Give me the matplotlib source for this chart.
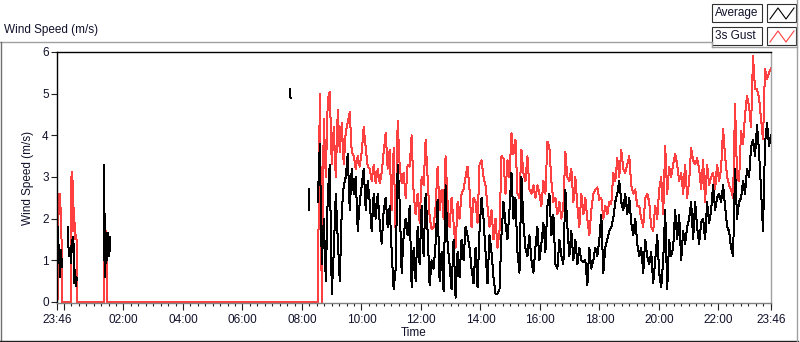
import numpy as np
import matplotlib
matplotlib.use('Agg')
import matplotlib.pyplot as plt
from matplotlib.lines import Line2D
from matplotlib.patches import Rectangle

plt.rcParams['font.family'] = ['Liberation Sans', 'DejaVu Sans']

# time axis: minutes after 23:46
# early gust bursts (gust drops back to 0 between them)
gust_early_t = [0, 1.0, 1.3, 2.7, 3.5, 4.5, 5.5, 6.5, 7.5, 8.5, 9.4, 9.6,
                27.8, 28.2, 29.0, 30.0, 31.0, 32.5, 34.0, 35.5, 37.0, 38.5, 40.0, 40.3,
                94.5, 95.0, 95.5, 96.5, 97.5, 98.5, 99.5, 100.5, 101.5, 525]
gust_early = [0, 0, 0.9, 2.6, 2.1, 2.55, 2.2, 2.6, 2.0, 1.9, 1.3, 0,
              0, 3.0, 1.2, 3.13, 2.0, 2.9, 1.7, 1.9, 1.5, 1.6, 1.4, 0,
              0, 0.5, 2.35, 1.6, 1.9, 1.3, 1.7, 1.5, 0, 0]

# average: isolated pieces with no data in between
avg_pieces_t = [
    [1.3, 2.7, 3.4, 4.7, 6.1, 7.4, 8.7, 10.1],
    [21.5, 22.8, 24.2, 26.2, 28.2, 29.6, 31, 33, 35, 36.3, 37.7, 39, 40.3],
    [94.2, 95.5, 96.2, 97.5, 98.9, 100.2, 101.5, 102.9, 104.2, 105.6, 106.9],
    [470, 471],
    [508, 509],
]
avg_pieces = [
    [1.25, 1.8, 0.93, 1.33, 0.6, 1.25, 1.1, 0.85],
    [1.8, 1.4, 1.1, 1.3, 0.93, 1.5, 1.2, 1.57, 0.45, 0.77, 0.37, 0.6, 0.53],
    [1.0, 3.3, 0.6, 0.7, 1.65, 1.0, 1.4, 1.65, 1.25, 1.1, 1.57],
    [5.1, 4.9],
    [2.7, 2.2],
]

# continuous record from ~08:32 to 23:46
day_start, day_end = 526, 1440
gust_day = [0.0, 5.0, 0.0, 4.4, 3.0, 4.85, 5.05, 3.3, 4.2, 3.0, 4.6, 3.6, 4.3, 3.3, 4.1,
            4.3, 4.55, 3.6, 3.5, 3.2, 3.5, 3.25, 3.6, 4.2, 3.7, 3.25, 3.2, 2.9, 3.3, 2.85,
            3.2, 2.85, 3.1, 3.6, 4.05, 3.2, 3.65, 2.2, 3.7, 1.6, 4.35, 3.25, 2.85, 3.1, 2.5,
            3.3, 3.25, 4.0, 2.6, 2.1, 2.6, 1.9, 3.0, 2.8, 3.9, 3.0, 2.05, 1.75, 1.8, 2.3,
            3.25, 2.2, 2.7, 2.0, 3.5, 2.4, 1.8, 2.5, 1.9, 1.3, 2.4, 2.0, 2.6, 2.7, 3.0,
            3.25, 2.7, 1.8, 2.5, 2.4, 1.9, 3.3, 3.4, 3.0, 2.8, 2.3, 1.8, 2.2, 1.5, 2.0,
            1.3, 1.7, 3.5, 3.45, 2.6, 3.4, 3.0, 4.05, 3.55, 3.9, 2.6, 2.5, 3.65, 3.1, 2.9,
            3.5, 2.7, 2.6, 2.8, 2.5, 2.8, 2.6, 2.3, 2.9, 2.6, 3.85, 3.7, 2.9, 2.4, 2.5,
            2.1, 2.4, 2.0, 2.3, 3.6, 3.0, 2.9, 3.2, 2.4, 3.0, 2.3, 1.8, 2.6, 2.1, 2.5,
            2.0, 1.6, 2.2, 2.6, 2.7, 2.75, 2.45, 2.5, 2.0, 2.3, 2.1, 2.4, 2.35, 3.1, 2.9,
            3.45, 3.0, 3.65, 3.2, 3.1, 3.3, 3.5, 2.8, 2.6, 2.7, 2.3, 2.3, 2.0, 1.8, 2.5,
            2.6, 2.4, 1.8, 1.7, 2.3, 2.0, 2.7, 3.0, 2.1, 3.75, 2.6, 3.25, 3.0, 3.3, 3.55,
            3.3, 2.9, 3.1, 2.6, 3.3, 2.5, 2.9, 3.7, 3.4, 3.3, 3.45, 3.2, 2.7, 3.4, 2.4,
            3.3, 2.8, 3.0, 3.1, 2.7, 3.3, 2.9, 3.2, 4.15, 3.5, 3.0, 2.8, 2.7, 2.5, 4.75,
            3.0, 2.9, 4.1, 3.8, 4.5, 4.95, 4.7, 4.2, 5.9, 5.1, 5.1, 4.9, 4.4, 3.9, 5.6,
            5.35, 5.5, 5.6]
avg_day = [2.4, 3.8, 0.9, 2.0, 0.5, 2.6, 3.3, 0.2, 1.2, 2.6, 1.5, 0.5, 2.2, 2.8, 3.0,
           3.55, 2.2, 3.2, 2.6, 3.0, 1.7, 2.4, 2.8, 3.2, 2.2, 2.9, 2.4, 1.7, 2.6, 2.0,
           2.6, 1.9, 1.4, 2.2, 2.5, 1.8, 2.3, 1.2, 0.3, 0.8, 3.3, 2.4, 0.7, 1.6, 2.0,
           1.6, 2.3, 0.35, 1.3, 0.5, 1.8, 0.9, 2.3, 1.1, 2.6, 1.7, 0.4, 1.0, 0.8, 1.4,
           2.45, 0.5, 1.2, 0.25, 2.8, 1.4, 0.9, 0.3, 1.5, 0.1, 1.2, 0.6, 1.5, 1.0, 1.8,
           1.6, 1.3, 0.8, 0.45, 1.3, 0.35, 1.7, 2.5, 2.0, 1.2, 0.45, 1.6, 1.2, 0.6, 0.2,
           0.2, 0.3, 1.6, 2.4, 1.9, 1.5, 2.2, 3.1, 2.0, 2.5, 1.2, 0.7, 3.0, 1.9, 1.3,
           1.1, 1.6, 1.0, 0.7, 1.3, 1.8, 1.0, 1.4, 1.9, 1.2, 2.3, 2.6, 1.6, 2.1, 0.9,
           0.8, 1.5, 1.1, 0.9, 2.7, 1.8, 1.1, 1.7, 1.0, 1.5, 0.9, 1.3, 1.0, 0.95, 1.0,
           0.4, 1.3, 0.8, 1.0, 1.3, 1.1, 1.5, 2.1, 0.7, 1.3, 1.5, 1.7, 1.8, 2.0, 2.4,
           2.6, 2.9, 2.4, 2.2, 2.6, 2.1, 2.5, 1.9, 1.6, 2.0, 1.4, 1.1, 1.3, 0.7, 1.5,
           1.1, 0.9, 1.2, 0.45, 1.0, 1.6, 0.7, 0.35, 1.0, 2.2, 0.3, 1.5, 1.1, 1.3, 2.2,
           1.5, 2.1, 1.0, 1.7, 1.4, 1.8, 2.0, 2.4, 1.5, 2.4, 1.8, 1.4, 1.9, 2.0, 1.5,
           2.4, 1.9, 2.2, 2.8, 2.2, 2.5, 2.6, 2.4, 2.8, 2.3, 1.8, 1.7, 1.3, 1.1, 3.2,
           2.0, 2.4, 2.5, 2.9, 2.6, 3.2, 3.0, 3.7, 3.9, 3.5, 4.25, 3.6, 2.7, 1.7, 3.8,
           4.3, 3.75, 4.0]

tick_pos = [0, 14, 134, 254, 374, 494, 614, 734, 854, 974, 1094, 1214, 1334, 1440]
tick_lbl = ['23:46', '', '02:00', '04:00', '06:00', '08:00', '10:00', '12:00',
            '14:00', '16:00', '18:00', '20:00', '22:00', '23:46']
minor_pos = list(range(14, 1440, 15))

W, H = 800, 342
def fp(x, y):
    return x / W, 1 - y / H

txt_col = '#10102a'
red = '#ff4040'

fig = plt.figure(figsize=(W / 100, H / 100), dpi=100)
fig.patch.set_facecolor('white')

# build series
t_day = np.linspace(day_start, day_end, len(gust_day))
gust_t = np.concatenate([gust_early_t, t_day])
gust = np.concatenate([gust_early, gust_day])
avg_t, avg = [], []
for pt, pv in zip(avg_pieces_t, avg_pieces):
    avg_t += list(pt) + [pt[-1] + 0.5]
    avg += list(pv) + [np.nan]
avg_t = np.concatenate([avg_t, t_day])
avg = np.concatenate([avg, avg_day])

ax = fig.add_axes([57 / W, 1 - 303 / H, 714 / W, 251 / H])
ax.plot(gust_t, gust, color=red, lw=0.72, zorder=2, antialiased=False)
ax.plot(avg_t, avg, color='black', lw=0.72, zorder=3, antialiased=False)
ax.set_xlim(0, 1440)
ax.set_ylim(-0.025, 6)
ax.set_yticks(range(7))
ax.set_xticks(tick_pos)
ax.set_xticklabels(tick_lbl)
ax.set_xticks(minor_pos, minor=True)
ax.tick_params(axis='y', length=4, width=0.8, colors='#202020', labelcolor=txt_col,
               labelsize=8.5, pad=2)
ax.tick_params(axis='x', which='major', length=5, width=0.8, colors='#202020',
               labelcolor=txt_col, labelsize=8.5, pad=3)
ax.tick_params(axis='x', which='minor', length=2.5, width=0.8, colors='#202020')
ax.spines['left'].set_color('black')
ax.spines['top'].set_color('black')
ax.spines['bottom'].set_color('#808080')
ax.spines['right'].set_color('#a0a0a0')
for s in ax.spines.values():
    s.set_linewidth(1.0)
ax.set_ylabel('Wind Speed (m/s)', fontsize=8.5, color=txt_col, labelpad=6)
ax.set_xlabel('Time', fontsize=8.5, color=txt_col, labelpad=1)

# outer graph frame
frame = [((0, 42), (712, 42), '#a0a0a0'), ((1, 42), (1, 341), '#707070'),
         ((0, 341), (798, 341), '#202020'), ((797, 0), (797, 341), '#a0a0a0'),
         ((712, 42), (712, 47), '#a0a0a0'), ((712, 47), (797, 47), '#a0a0a0')]
for a, b, c in frame:
    (x0, y0), (x1, y1) = fp(*a), fp(*b)
    fig.add_artist(Line2D([x0, x1], [y0, y1], color=c, lw=1.0))

fig.text(*fp(4, 30), 'Wind Speed (m/s)', fontsize=8.5, color=txt_col, va='center', ha='left')

# legend
for i, (name, col) in enumerate([('Average', 'black'), ('3s Gust', red)]):
    y0 = 4 + i * 23
    x0, yb = fp(712, y0 + 18)
    fig.add_artist(Rectangle((x0, yb), 50 / W, 18 / H, transform=fig.transFigure,
                             facecolor='white', edgecolor='#303030', lw=0.8))
    fig.text(*fp(715, y0 + 9), name, fontsize=8.5, color=txt_col, va='center', ha='left')
    x0, yb = fp(767, y0 + 18)
    fig.add_artist(Rectangle((x0, yb), 29 / W, 18 / H, transform=fig.transFigure,
                             facecolor='white', edgecolor='#303030', lw=0.8))
    zx = [770, 778, 786, 794]
    zy = [y0 + 15, y0 + 4, y0 + 15, y0 + 4]
    pts = [fp(a, b) for a, b in zip(zx, zy)]
    fig.add_artist(Line2D([p[0] for p in pts], [p[1] for p in pts], color=col, lw=0.8))

fig.savefig('out.png', dpi=100)
